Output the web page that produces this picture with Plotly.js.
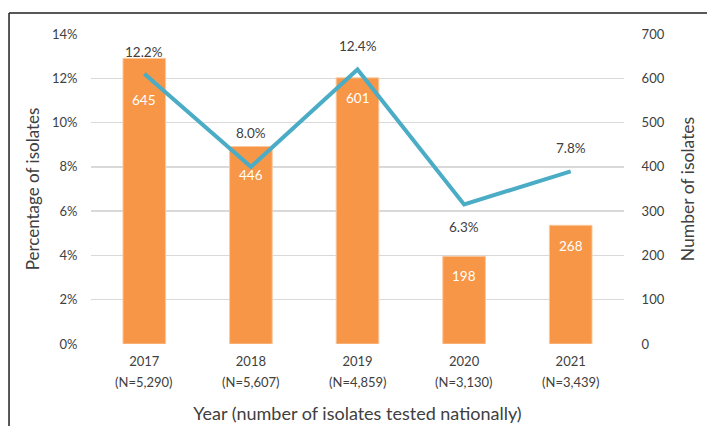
<!DOCTYPE html>
<html>
<head>
<meta charset="utf-8">
<script src="https://cdn.plot.ly/plotly-3.0.1.min.js"></script>
<style>html,body{margin:0;padding:0;background:#fff;}#chart{width:707px;height:426px;}</style>
</head>
<body>
<div id="chart"></div>
<script>
// Data
var years = ['2017', '2018', '2019', '2020', '2021'];
var nTested = ['(N=5,290)', '(N=5,607)', '(N=4,859)', '(N=3,130)', '(N=3,439)'];
var isolateCounts = [645, 446, 601, 198, 268];
var isolatePercents = [12.2, 8.0, 12.4, 6.3, 7.8];

// Label offsets (style)
var pctShift = [22, 34, 23, -22, 23];
var cntShift = [-42, -29, -20, -20, -21];

var FONT = 'Lato, "Open Sans", sans-serif';
var TXT = '#404040';

var bars = {
  type: 'bar', x: years, y: isolateCounts, yaxis: 'y',
  marker: {color: '#f79646', line: {color: '#fbc9a0', width: 1}},
  width: 0.4, hoverinfo: 'skip', showlegend: false
};
var line = {
  type: 'scatter', mode: 'lines', x: years, y: isolatePercents, yaxis: 'y2',
  line: {color: '#4bacc6', width: 4}, hoverinfo: 'skip', showlegend: false
};

var annotations = [];
years.forEach(function (yr, i) {
  annotations.push({x: i, y: isolatePercents[i], xref: 'x', yref: 'y2', yshift: pctShift[i],
    text: isolatePercents[i].toFixed(1) + '%', showarrow: false, font: {family: FONT, size: 13.5, color: TXT}});
  annotations.push({x: i, y: isolateCounts[i], xref: 'x', yref: 'y', yshift: cntShift[i],
    text: String(isolateCounts[i]), showarrow: false, font: {family: FONT, size: 13.5, color: '#ffffff'}});
  annotations.push({x: i, y: 0, xref: 'x', yref: 'paper', yanchor: 'middle', yshift: -38,
    text: nTested[i], showarrow: false, font: {family: FONT, size: 13, color: TXT}});
});

var layout = {
  width: 707, height: 426,
  margin: {l: 91, r: 83, t: 34, b: 82, autoexpand: false},
  paper_bgcolor: '#ffffff', plot_bgcolor: '#ffffff',
  font: {family: FONT, color: TXT},
  bargap: 0.6,
  xaxis: {
    type: 'category', categoryorder: 'array', categoryarray: years, range: [-0.5, 4.5],
    showgrid: false, zeroline: false, showline: false,
    ticks: 'outside', ticklen: 5, tickcolor: 'rgba(0,0,0,0)',
    tickfont: {family: FONT, size: 13, color: TXT},
    title: {text: 'Year (number of isolates tested nationally)', standoff: 39,
      font: {family: FONT, size: 18, color: TXT}}
  },
  yaxis: {
    side: 'right', range: [0, 700], dtick: 100, tick0: 0,
    showgrid: true, gridcolor: '#d9d9d9', gridwidth: 1.5, zeroline: false, showline: false,
    ticks: 'outside', ticklen: 14, tickcolor: 'rgba(0,0,0,0)',
    tickfont: {family: FONT, size: 13, color: TXT},
    title: {text: 'Number of isolates', standoff: 18, font: {family: FONT, size: 17.5, color: TXT}}
  },
  yaxis2: {
    overlaying: 'y', side: 'left', range: [0, 14], dtick: 2, tick0: 0, ticksuffix: '%',
    showgrid: false, zeroline: false, showline: false,
    ticks: 'outside', ticklen: 10, tickcolor: 'rgba(0,0,0,0)',
    tickfont: {family: FONT, size: 13, color: TXT},
    title: {text: 'Percentage of isolates', standoff: 7, font: {family: FONT, size: 17, color: TXT}}
  },
  annotations: annotations,
  shapes: [
    {type: 'line', xref: 'paper', yref: 'paper', x0: -0.1538, x1: 1.2, y0: 1.0677, y1: 1.0677,
      line: {color: '#231f20', width: 1.5}},
    {type: 'line', xref: 'paper', yref: 'paper', x0: -0.1538, x1: -0.1538, y0: 1.0677, y1: -0.3,
      line: {color: '#231f20', width: 1.5}}
  ]
};

Plotly.newPlot('chart', [bars, line], layout, {displayModeBar: false, staticPlot: true});
</script>
</body>
</html>
